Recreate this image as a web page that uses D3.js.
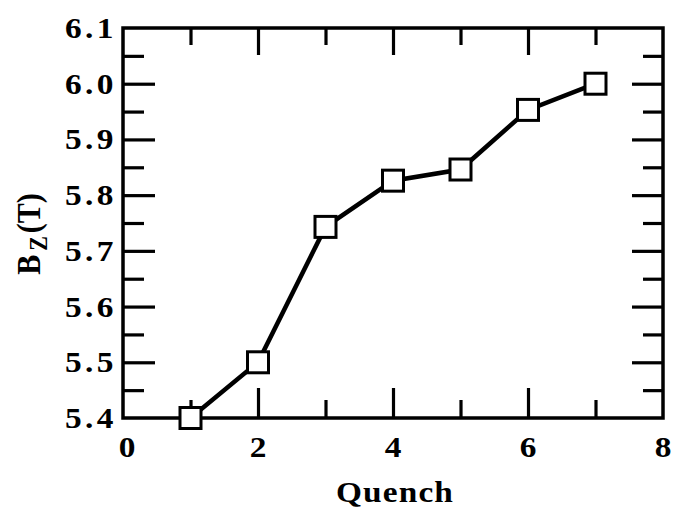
<!DOCTYPE html>
<html>
<head>
<meta charset="utf-8">
<script src="https://cdn.jsdelivr.net/npm/d3@7"></script>
<style>
  body { margin: 0; background: #fff; }
  svg text { font-family: "Liberation Serif", "Times New Roman", serif; font-weight: bold; fill: #000; }
</style>
</head>
<body>
<svg id="chart"></svg>
<script>
const quench = [1, 2, 3, 4, 5, 6, 7];
const bz = [5.40, 5.50, 5.743, 5.826, 5.846, 5.953, 6.0];
const xMajor = [2, 4, 6];
const xMinor = [1, 3, 5, 7];
const xLabels = [0, 2, 4, 6, 8];
const yMajor = [5.5, 5.6, 5.7, 5.8, 5.9, 6.0];
const yMinor = [5.45, 5.55, 5.65, 5.75, 5.85, 5.95, 6.05];
const yLabels = [5.4, 5.5, 5.6, 5.7, 5.8, 5.9, 6.0, 6.1];

const width = 673;
const height = 513;
const margin = { top: 28, right: 10, bottom: 95, left: 123 };
const stretch = 1.15; // the scan is a bit wider than tall

const svg = d3.select("#chart").attr("width", width).attr("height", height);

const x = d3.scaleLinear().domain([0, 8]).range([margin.left, width - margin.right]);
const y = d3.scaleLinear().domain([5.4, 6.1]).range([height - margin.bottom, margin.top]);

const x0 = x.range()[0], x1 = x.range()[1];
const y0 = y.range()[0], y1 = y.range()[1];

// inward ticks on all four sides
function ticks(axis, tf, size) {
  const g = svg.append("g").attr("transform", tf).call(axis.tickSize(size).tickFormat(""));
  g.select(".domain").remove();
  g.selectAll("line").attr("stroke", "#000").attr("stroke-width", 3.2);
}
ticks(d3.axisBottom(x).tickValues(xMajor), `translate(0,${y0})`, -30);
ticks(d3.axisBottom(x).tickValues(xMinor), `translate(0,${y0})`, -18);
ticks(d3.axisTop(x).tickValues(xMajor), `translate(0,${y1})`, -27);
ticks(d3.axisTop(x).tickValues(xMinor), `translate(0,${y1})`, -17);
ticks(d3.axisLeft(y).tickValues(yMajor), `translate(${x0},0)`, -32);
ticks(d3.axisLeft(y).tickValues(yMinor), `translate(${x0},0)`, -21);
ticks(d3.axisRight(y).tickValues(yMajor), `translate(${x1},0)`, -31);
ticks(d3.axisRight(y).tickValues(yMinor), `translate(${x1},0)`, -20);

// frame
svg.append("rect")
  .attr("x", x0).attr("y", y1)
  .attr("width", x1 - x0).attr("height", y0 - y1)
  .attr("fill", "none").attr("stroke", "#000").attr("stroke-width", 3.5);

// tick labels
svg.selectAll(".ylab").data(yLabels).join("text")
  .attr("class", "ylab")
  .attr("text-anchor", "end")
  .attr("font-size", 29)
  .attr("letter-spacing", 3)
  .attr("transform", d => `translate(${x0 - 6},${y(d) + 10}) scale(${stretch},1)`)
  .text(d => d.toFixed(1));

svg.selectAll(".xlab").data(xLabels).join("text")
  .attr("class", "xlab")
  .attr("text-anchor", "middle")
  .attr("font-size", 29)
  .attr("transform", d => `translate(${x(d) + (d === 0 ? 4 : 0)},${y0 + 39}) scale(${stretch},1)`)
  .text(d => d);

// axis titles
svg.append("text")
  .attr("text-anchor", "middle")
  .attr("font-size", 29)
  .attr("letter-spacing", 1)
  .attr("transform", `translate(${(x0 + x1) / 2 + 2},${y0 + 84}) scale(${stretch},1)`)
  .text("Quench");

const yt = svg.append("text")
  .attr("text-anchor", "middle")
  .attr("font-size", 30)
  .attr("transform", `translate(40,${(y0 + y1) / 2 + 11}) rotate(-90) scale(1,${stretch})`);
yt.append("tspan").text("B");
yt.append("tspan").attr("font-size", 22).attr("dy", 6).attr("dx", 4).text("Z");
yt.append("tspan").attr("dy", -6).attr("dx", 3).text("(T)");

// data line and markers
const line = d3.line().x((d, i) => x(quench[i])).y(d => y(d));
svg.append("path")
  .datum(bz)
  .attr("d", line)
  .attr("fill", "none")
  .attr("stroke", "#000")
  .attr("stroke-width", 4.5);

const s = 21;
svg.selectAll(".pt").data(bz).join("rect")
  .attr("class", "pt")
  .attr("x", (d, i) => x(quench[i]) - s / 2)
  .attr("y", d => y(d) - s / 2)
  .attr("width", s).attr("height", s)
  .attr("fill", "#fff")
  .attr("stroke", "#000")
  .attr("stroke-width", 3);
</script>
</body>
</html>
